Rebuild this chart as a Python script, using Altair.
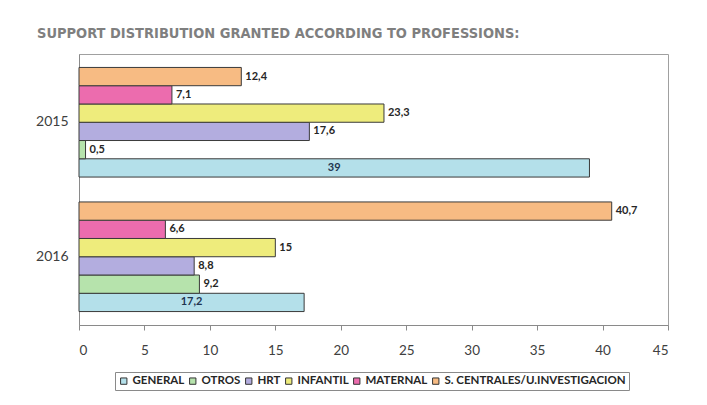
import altair as alt
import pandas as pd

years = ["2015", "2016"]
categories = ["GENERAL", "OTROS", "HRT", "INFANTIL", "MATERNAL", "S. CENTRALES/U.INVESTIGACION"]
values_2015 = [39, 0.5, 17.6, 23.3, 7.1, 12.4]
values_2016 = [17.2, 9.2, 8.8, 15, 6.6, 40.7]
colors = ["#b4e0ea", "#b6e3ac", "#b3addf", "#eeec7c", "#ec6cae", "#f7bb83"]
x_ticks = [0, 5, 10, 15, 20, 25, 30, 35, 40, 45]

rows = []
for yr, vals in zip(years, [values_2015, values_2016]):
    for cat, v in zip(categories, vals):
        rows.append({"year": yr, "cat": cat, "value": v,
                     "label": f"{v:g}".replace(".", ",")})
df = pd.DataFrame(rows)

stack_order = list(reversed(categories))

y_enc = alt.Y("year:N", title=None,
              scale=alt.Scale(domain=years, paddingInner=0.185, paddingOuter=0.1),
              axis=alt.Axis(labelFont="Lato", labelFontSize=14, labelColor="#404040",
                            labelPadding=11, ticks=False, domainColor="#8a8a8a"))
yoff_enc = alt.YOffset("cat:N", sort=stack_order, scale=alt.Scale(paddingInner=0, paddingOuter=0))

base = alt.Chart(df)

bars = base.mark_bar(stroke="#3a3a3a", strokeWidth=1).encode(
    x=alt.X("value:Q", title=None,
            scale=alt.Scale(domain=[0, 45], nice=False),
            axis=alt.Axis(values=x_ticks, grid=False, labelFont="Lato", labelFontSize=13.5,
                          labelColor="#404040", tickColor="#8a8a8a", tickSize=5,
                          domainColor="#8a8a8a", labelPadding=13)),
    y=y_enc,
    yOffset=yoff_enc,
    color=alt.Color("cat:N", scale=alt.Scale(domain=categories, range=colors),
                    legend=alt.Legend(title=None, orient="none", legendX=36, legendY=318,
                                      direction="horizontal",
                                      columns=6, symbolType="square", symbolSize=40,
                                      symbolStrokeColor="#333333", symbolStrokeWidth=1,
                                      labelFont="Lato", labelFontWeight="bold",
                                      labelFontSize=11.5, labelColor="#262626",
                                      labelLimit=400,
                                      strokeColor="#8a8a8a", fillColor="#ffffff",
                                      padding=3, columnPadding=2, symbolOffset=0,
                                      labelOffset=3)),
)

labels_out = base.transform_filter(alt.datum.cat != "GENERAL").mark_text(
    align="left", baseline="middle", dx=4, font="Lato", fontWeight="bold",
    fontSize=11, color="#262626").encode(
    x="value:Q", y=alt.Y("year:N", scale=alt.Scale(domain=years)),
    yOffset=yoff_enc, text="label:N")

labels_in = base.transform_filter(alt.datum.cat == "GENERAL").transform_calculate(
    mid="datum.value / 2").mark_text(
    align="center", baseline="middle", font="Lato", fontWeight="bold",
    fontSize=11, color="#1f3550").encode(
    x="mid:Q", y=alt.Y("year:N", scale=alt.Scale(domain=years)),
    yOffset=yoff_enc, text="label:N")

chart = alt.layer(bars, labels_out, labels_in).properties(
    width=589, height=271,
    autosize=alt.AutoSizeParams(type="none"),
    padding={"left": 71, "top": 46, "right": 30, "bottom": 70},
    background="#ffffff",
    title=alt.TitleParams("SUPPORT DISTRIBUTION GRANTED ACCORDING TO PROFESSIONS:",
                          anchor="start", frame="group", dx=-42, dy=14, offset=16,
                          baseline="alphabetic",
                          font="DejaVu Sans Condensed, DejaVu Sans, sans-serif",
                          fontWeight="bold", fontSize=14.5, color="#7f7f7f"),
).configure_view(stroke="#a0a0a0", strokeWidth=1)

chart.save("out.html", embed_options={"renderer": "svg", "actions": False})
